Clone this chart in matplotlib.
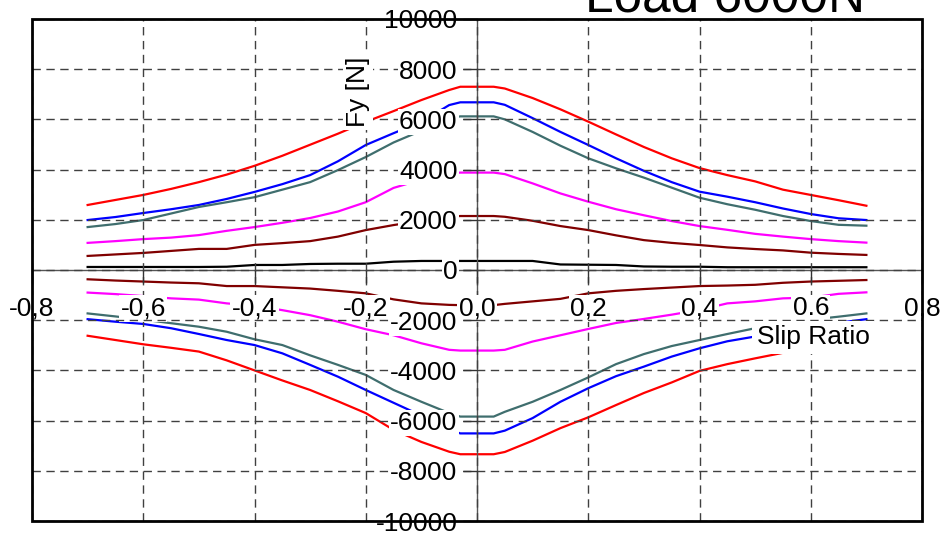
import matplotlib
matplotlib.use('Agg')
from matplotlib import pyplot as plt
from matplotlib.patches import Rectangle

plt.rcParams['font.family'] = ['Liberation Sans', 'DejaVu Sans']

# slip ratio sample points
slip = [-0.70, -0.65, -0.60, -0.55, -0.50, -0.45, -0.40, -0.35, -0.30, -0.25,
        -0.20, -0.15, -0.10, -0.05, -0.03, 0.03, 0.05, 0.10, 0.15, 0.20,
        0.25, 0.30, 0.35, 0.40, 0.45, 0.50, 0.55, 0.60, 0.65, 0.70]

# lateral force Fy [N], upper branch
red_pos = [2590, 2790, 2990, 3230, 3500, 3800, 4150, 4550, 4990, 5430,
           5900, 6330, 6770, 7170, 7300, 7300, 7230, 6850, 6400, 5910,
           5400, 4900, 4450, 4060, 3780, 3530, 3200, 2990, 2780, 2560]
blue_pos = [1990, 2110, 2270, 2420, 2590, 2830, 3110, 3420, 3780, 4330,
            4980, 5450, 5900, 6570, 6680, 6680, 6580, 6050, 5500, 4980,
            4450, 3950, 3500, 3120, 2920, 2700, 2450, 2230, 2060, 1990]
teal_pos = [1710, 1830, 1990, 2250, 2510, 2700, 2900, 3200, 3500, 3980,
            4500, 5080, 5550, 6050, 6120, 6120, 6000, 5500, 4950, 4450,
            4050, 3680, 3280, 2880, 2620, 2400, 2150, 1950, 1800, 1765]
magenta_pos = [1080, 1150, 1230, 1290, 1390, 1560, 1710, 1880, 2070, 2330,
               2700, 3270, 3600, 3850, 3880, 3880, 3820, 3450, 3050, 2720,
               2420, 2180, 1950, 1750, 1600, 1440, 1330, 1230, 1150, 1090]
darkred_pos = [560, 620, 680, 760, 840, 840, 1000, 1070, 1150, 1330,
               1590, 1790, 1960, 2120, 2150, 2150, 2120, 1960, 1750, 1590,
               1380, 1190, 1080, 995, 900, 835, 780, 690, 640, 600]
black_pos = [120, 120, 120, 120, 120, 130, 200, 200, 240, 250,
             250, 330, 360, 360, 360, 360, 360, 360, 220, 210,
             200, 140, 130, 130, 110, 110, 110, 110, 110, 110]

# lower branch
darkred_neg = [-370, -420, -460, -500, -530, -640, -640, -690, -740, -830,
               -930, -1170, -1330, -1390, -1400, -1400, -1350, -1250, -1150, -930,
               -830, -760, -700, -640, -620, -590, -510, -460, -430, -400]
magenta_neg = [-900, -960, -1040, -1130, -1180, -1330, -1420, -1600, -1800, -2060,
               -2360, -2600, -2920, -3180, -3210, -3210, -3180, -2850, -2600, -2350,
               -2110, -1950, -1780, -1590, -1330, -1250, -1130, -1100, -950, -890]
teal_neg = [-1730, -1850, -1980, -2120, -2260, -2460, -2760, -2990, -3400, -3780,
            -4180, -4780, -5250, -5700, -5840, -5840, -5650, -5250, -4780, -4280,
            -3750, -3350, -3030, -2790, -2550, -2320, -2150, -1980, -1860, -1730]
blue_neg = [-1960, -2060, -2150, -2320, -2550, -2790, -2990, -3320, -3780, -4250,
            -4780, -5290, -5800, -6350, -6510, -6510, -6400, -5900, -5250, -4710,
            -4230, -3850, -3450, -3120, -2840, -2650, -2450, -2250, -2100, -1960]
red_neg = [-2620, -2790, -2960, -3100, -3250, -3600, -4000, -4400, -4780, -5230,
           -5700, -6370, -6850, -7240, -7340, -7340, -7250, -6800, -6300, -5870,
           -5380, -4900, -4480, -4020, -3750, -3520, -3300, -3000, -2800, -2600]

xticks = [-0.8, -0.6, -0.4, -0.2, 0.0, 0.2, 0.4, 0.6, 0.8]
xtick_labels = ['-0,8', '-0,6', '-0,4', '-0,2', '0,0', '0,2', '0,4', '0.6', '0,8']
yticks = [-10000, -8000, -6000, -4000, -2000, 0, 2000, 4000, 6000, 8000, 10000]
ytick_labels = [str(v) for v in yticks]

fig = plt.figure(figsize=(9.44, 5.33), dpi=100)
ax = fig.add_axes([0.0339, 0.0225, 0.9428, 0.9419])

series = [
    (red_pos, '#ff0000'), (blue_pos, '#0000ff'), (teal_pos, '#3f6e6e'),
    (magenta_pos, '#ff00ff'), (darkred_pos, '#800000'), (black_pos, '#000000'),
    (darkred_neg, '#800000'), (magenta_neg, '#ff00ff'), (teal_neg, '#3f6e6e'),
    (blue_neg, '#0000ff'), (red_neg, '#ff0000'),
]
for vals, col in series:
    ax.plot(slip, vals, color=col, lw=1.6, solid_joinstyle='round')

ax.set_xlim(-0.8, 0.8)
ax.set_ylim(-10000, 10000)

# axes through the origin
ax.spines['left'].set_position(('data', 0))
ax.spines['bottom'].set_position(('data', 0))
ax.spines['top'].set_visible(False)
ax.spines['right'].set_visible(False)
for s in ('left', 'bottom'):
    ax.spines[s].set_color('#555555')
    ax.spines[s].set_linewidth(1.0)
ax.add_patch(Rectangle((0, 0), 1, 1, transform=ax.transAxes, fill=False,
                       lw=2, edgecolor='black', clip_on=False, zorder=6))

ax.set_xticks(xticks)
ax.set_xticklabels(xtick_labels)
ax.set_yticks(yticks)
ax.set_yticklabels(ytick_labels)
ax.tick_params(axis='x', direction='out', length=9, width=1, color='#333333',
               pad=10, labelsize=19)
ax.tick_params(axis='y', direction='out', length=10, width=1, color='#333333',
               pad=4, labelsize=19)
ax.grid(True, ls=(0, (6, 4)), color='#404040', lw=1)
ax.set_axisbelow(False)
for lbl in ax.get_xticklabels() + ax.get_yticklabels():
    lbl.set_bbox(dict(facecolor='white', edgecolor='none', pad=1))

ax.text(-0.214, 7090, 'Fy [N]', rotation=90, ha='center', va='center',
        fontsize=19, zorder=5,
        bbox=dict(facecolor='white', edgecolor='none', pad=2))
ax.text(0.604, -2680, 'Slip Ratio', ha='center', va='center', fontsize=19,
        zorder=5, bbox=dict(facecolor='white', edgecolor='none', pad=3.5))

fig.text(725 / 944, 1 - 12 / 533, 'Load 6000N', ha='center', va='baseline',
         fontsize=37)

plt.savefig('out.png', dpi=100)
